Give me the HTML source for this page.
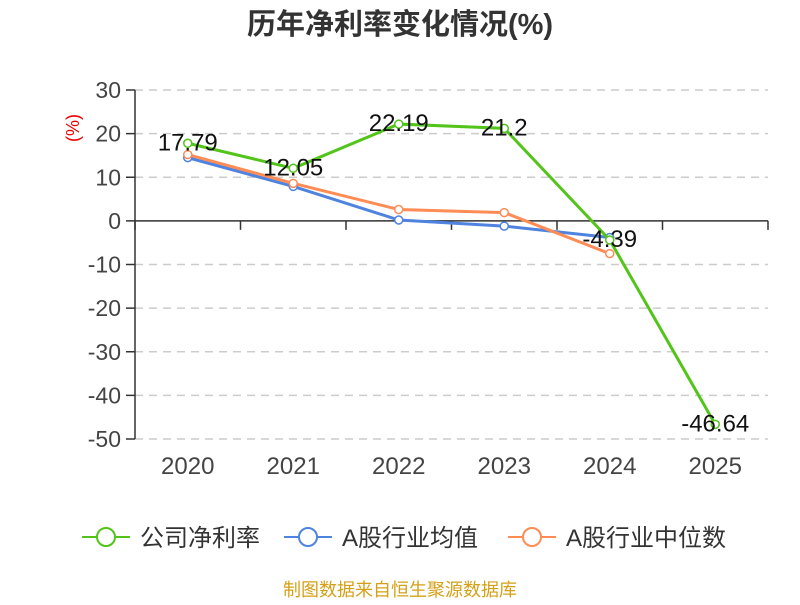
<!DOCTYPE html>
<html><head><meta charset="utf-8"><style>
body{margin:0;background:#fff;width:800px;height:600px;overflow:hidden;font-family:"Liberation Sans","Noto Sans CJK SC",sans-serif}
</style></head><body>
<svg id="c" width="800" height="600" style="font-family:'Liberation Sans','Noto Sans CJK SC',sans-serif">
<text x="400" y="34" text-anchor="middle" font-size="29" font-weight="bold" fill="#333">历年净利率变化情况(%)</text>
<text transform="translate(79,128) rotate(-90)" text-anchor="middle" font-size="18" fill="#e00">(%)</text>
<g id="grid"></g><g id="axes"></g><g id="series"></g>
<g>
<g><line x1="82" y1="537" x2="130" y2="537" stroke="#52c41a" stroke-width="2"/><circle cx="106" cy="537" r="9" fill="#fff" stroke="#52c41a" stroke-width="2"/><text x="140" y="546" font-size="24" fill="#333">公司净利率</text></g>
<g><line x1="284" y1="537" x2="332" y2="537" stroke="#4e83e0" stroke-width="2"/><circle cx="308" cy="537" r="9" fill="#fff" stroke="#4e83e0" stroke-width="2"/><text x="342" y="546" font-size="24" fill="#333">A股行业均值</text></g>
<g><line x1="508" y1="537" x2="556" y2="537" stroke="#ff8c55" stroke-width="2"/><circle cx="532" cy="537" r="9" fill="#fff" stroke="#ff8c55" stroke-width="2"/><text x="566" y="546" font-size="24" fill="#333">A股行业中位数</text></g>
</g>
<text x="400" y="596" text-anchor="middle" font-size="18" fill="#d4a017">制图数据来自恒生聚源数据库</text>
</svg>
<script>
const categories=["2020","2021","2022","2023","2024","2025"];
const companyValues=[17.79,12.05,22.19,21.2,-4.39,-46.64];
const averageValues=[14.5,7.9,0.2,-1.2,-3.8];
const medianValues=[15.2,8.6,2.6,1.9,-7.5];
const yTicks=[30,20,10,0,-10,-20,-30,-40,-50];
const NS="http://www.w3.org/2000/svg";
const L=135,R=768,T=90,B=439;
const y=v=>T+(30-v)/80*(B-T);
const step=(R-L)/categories.length;
const x=i=>L+step*(i+0.5);
function mk(tag,attrs,parent,txt){const e=document.createElementNS(NS,tag);for(const k in attrs)e.setAttribute(k,attrs[k]);if(txt!==undefined)e.textContent=txt;parent.appendChild(e);return e;}
const grid=document.getElementById('grid'),axes=document.getElementById('axes'),ser=document.getElementById('series');
yTicks.forEach(t=>{
 if(t!==0){const g=mk('line',{x1:L,x2:R,y1:y(t),y2:y(t),stroke:'#ccc','stroke-width':1.5,'stroke-dasharray':'8,6'},grid);
 
 }
 mk('line',{x1:L-9,x2:L,y1:y(t),y2:y(t),stroke:'#333','stroke-width':1.5},axes);
 const tl=mk('text',{x:L-14,y:y(t)+8,'text-anchor':'end','font-size':23,fill:'#444'},axes,String(t));
 
 
});
const ya=mk('line',{x1:L,x2:L,y1:T,y2:B,stroke:'#333','stroke-width':1.5},axes);


const xa=mk('line',{x1:L,x2:R,y1:y(0),y2:y(0),stroke:'#333','stroke-width':1.5},axes);


for(let i=0;i<=categories.length;i++)mk('line',{x1:L+step*i,x2:L+step*i,y1:y(0),y2:y(0)+9,stroke:'#333','stroke-width':1.5},axes);
categories.forEach((c,i)=>{const t=mk('text',{x:x(i),y:474,'text-anchor':'middle','font-size':24,fill:'#444'},axes,c);
 
 });
function series(vals,color,name){
 const pl=mk('polyline',{points:vals.map((v,i)=>x(i)+','+y(v)).join(' '),fill:'none',stroke:color,'stroke-width':3},ser);
 
 
 vals.forEach((v,i)=>{const c=mk('circle',{cx:x(i),cy:y(v),r:4,fill:'#fff',stroke:color,'stroke-width':1.5},ser);
  
  });
}
series(averageValues,'#4e83e0','industry-average');
series(medianValues,'#ff8c55','industry-median');
series(companyValues,'#52c41a','company');
companyValues.forEach((v,i)=>{const t=mk('text',{x:x(i),y:y(v)+7,'text-anchor':'middle','font-size':24,fill:'#111'},ser,String(v));
 
 });
</script>
</body></html>
